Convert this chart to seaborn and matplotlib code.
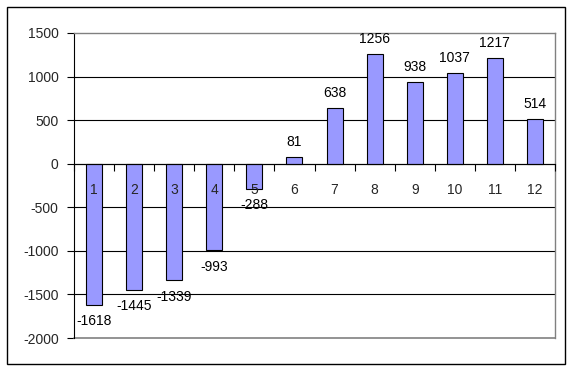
import matplotlib
matplotlib.use('Agg')
import matplotlib.pyplot as plt
import seaborn as sns
import pandas as pd
from matplotlib.patches import Rectangle

categories = ['1', '2', '3', '4', '5', '6', '7', '8', '9', '10', '11', '12']
values = [-1618, -1445, -1339, -993, -288, 81, 638, 1256, 938, 1037, 1217, 514]
yticks = [-2000, -1500, -1000, -500, 0, 500, 1000, 1500]

sns.set_theme(style='white')
plt.rcParams['font.family'] = ['Liberation Sans', 'DejaVu Sans']

fig = plt.figure(figsize=(5.72, 3.70), dpi=100)
ax = fig.add_axes([74/572, 32/370, 481/572, 305/370])

df = pd.DataFrame({'cat': categories, 'val': values})
sns.barplot(data=df, x='cat', y='val', color='#9999FF', saturation=1,
            width=0.4, edgecolor='black', linewidth=0.8, ax=ax, zorder=2)

ax.set_ylim(-2000, 1500)
ax.set_xlim(-0.5, len(categories) - 0.5)
ax.set_xlabel('')
ax.set_ylabel('')

# gridlines
for y in yticks[1:-1]:
    ax.axhline(y, color='black', lw=0.8, zorder=1)
ax.axhline(yticks[0], color='#808080', lw=1.2, zorder=1, clip_on=False)

# spines
ax.spines['left'].set_color('black')
ax.spines['left'].set_linewidth(0.8)
ax.spines['top'].set_color('#808080')
ax.spines['right'].set_color('#808080')
ax.spines['top'].set_linewidth(1.0)
ax.spines['right'].set_linewidth(1.0)
ax.spines['bottom'].set_position(('data', 0))
ax.spines['bottom'].set_color('black')
ax.spines['bottom'].set_linewidth(0.8)
ax.spines['bottom'].set_zorder(4)

ax.xaxis.set_zorder(5)

# y ticks
ax.set_yticks(yticks)
ax.set_yticklabels([str(t) for t in yticks])
ax.tick_params(axis='y', direction='out', length=5, width=0.8, color='black',
               pad=6, labelsize=10, left=True)

# x ticks: major ticks at category boundaries, labels at centers
ax.set_xticks([i - 0.5 for i in range(len(categories) + 1)])
ax.set_xticklabels([''] * (len(categories) + 1))
ax.set_xticks(range(len(categories)), minor=True)
ax.set_xticklabels(categories, minor=True)
ax.tick_params(axis='x', which='major', direction='out', length=5, width=0.8,
               color='black', bottom=True)
ax.tick_params(axis='x', which='minor', length=0, pad=14, labelsize=10, bottom=True)

# value labels
for i, v in enumerate(values):
    off = 10.8 if v > 0 else -11.8
    ax.annotate(str(v), (i, v), xytext=(0, off), textcoords='offset points',
                ha='center', va='center', fontsize=10, color='black', zorder=6)

# outer border
fig.patches.append(Rectangle((7/572, 6/370), 558/572, 357/370,
                             transform=fig.transFigure, fill=False,
                             edgecolor='black', lw=1.0))

fig.savefig('out.png', dpi=100)
